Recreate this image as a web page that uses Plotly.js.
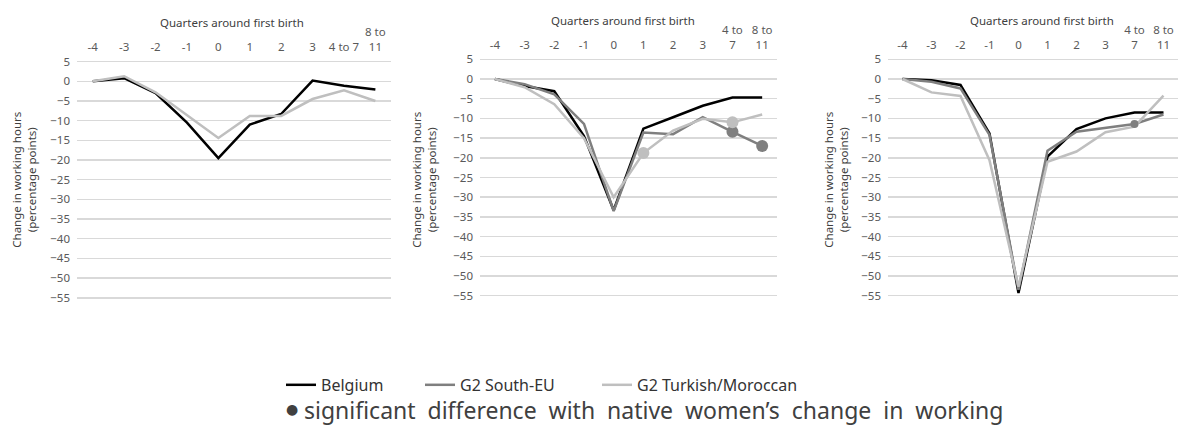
<!DOCTYPE html>
<html>
<head>
<meta charset="utf-8">
<script src="https://cdn.plot.ly/plotly-3.0.1.min.js"></script>
<style>html,body{margin:0;padding:0;background:#fff;}#chart{width:1178px;height:432px;}</style>
</head>
<body>
<div id="chart"></div>
<script>
// ---- data ----
const categories = ['-4','-3','-2','-1','0','1','2','3','4 to 7','8 to 11'];
const tickLabelsPanel1 = ['-4','-3','-2','-1','0','1','2','3','4 to 7','8 to<br>11'];
const tickLabelsPanel23 = ['-4','-3','-2','-1','0','1','2','3','4 to<br>7','8 to<br>11'];
const seriesNames = ['Belgium','G2 South-EU','G2 Turkish/Moroccan'];

const p1Belgium = [0, 0.8, -3.0, -10.5, -19.5, -11.0, -8.3, 0.2, -1.1, -2.1];
const p1Turkish = [0, 1.3, -2.8, -8.6, -14.4, -8.8, -8.8, -4.5, -2.3, -5.0];

const p2Belgium = [0, -1.8, -3.1, -14.5, -33.3, -12.6, -9.7, -6.8, -4.7, -4.7];
const p2SouthEU = [0, -1.3, -3.9, -11.4, -33.5, -13.6, -14.0, -9.7, -13.4, -17.0];
const p2Turkish = [0, -2.1, -6.4, -15.0, -30.0, -18.8, -13.1, -10.1, -11.0, -9.0];
const p2SouthEUSig = [false,false,false,false,false,false,false,false,true,true];
const p2TurkishSig = [false,false,false,false,false,true,false,false,true,false];

const p3Belgium = [0, -0.3, -1.5, -13.8, -54.3, -19.7, -12.7, -10.0, -8.5, -8.5];
const p3SouthEU = [0, -0.7, -2.4, -14.2, -53.5, -18.2, -13.4, -12.4, -11.4, -9.0];
const p3Turkish = [0, -3.4, -4.3, -20.6, -52.7, -21.0, -18.4, -13.5, -12.1, -4.2];
const p3SouthEUSig = [false,false,false,false,false,false,false,false,true,false];

const xTitle = 'Quarters around first birth';
const yTitle = 'Change in working hours<br>(percentage points)';
const noteBullet = '●';
const noteText = 'significant difference with native women’s change in working';

// ---- styles ----
const colors = {'Belgium':'#000000','G2 South-EU':'#7f7f7f','G2 Turkish/Moroccan':'#bfbfbf'};
const legendIds = {'Belgium':'legend','G2 South-EU':'legend2','G2 Turkish/Moroccan':'legend3'};
const FONT = 'Noto Sans, Open Sans, sans-serif';

function line(xa, ya, name, y, showlegend) {
  return {type:'scatter', mode:'lines', x:categories, y:y, name:name,
    xaxis:xa, yaxis:ya, showlegend:showlegend, legend:legendIds[name], legendgroup:name,
    line:{color:colors[name], width:2.5}, hoverinfo:'skip'};
}
function sig(xa, ya, name, y, flags, size) {
  const xs = [], ys = [];
  flags.forEach((f,i)=>{ if(f){ xs.push(categories[i]); ys.push(y[i]); } });
  return {type:'scatter', mode:'markers', x:xs, y:ys, name:name,
    xaxis:xa, yaxis:ya, showlegend:false, legend:legendIds[name], legendgroup:name,
    marker:{color:colors[name], size:size}, hoverinfo:'skip'};
}

const traces = [
  line('x','y','Belgium',p1Belgium,false),
  line('x','y','G2 Turkish/Moroccan',p1Turkish,false),
  line('x2','y2','Belgium',p2Belgium,true),
  line('x2','y2','G2 South-EU',p2SouthEU,true),
  line('x2','y2','G2 Turkish/Moroccan',p2Turkish,true),
  sig('x2','y2','G2 South-EU',p2SouthEU,p2SouthEUSig,12),
  sig('x2','y2','G2 Turkish/Moroccan',p2Turkish,p2TurkishSig,12),
  line('x3','y3','Belgium',p3Belgium,false),
  line('x3','y3','G2 South-EU',p3SouthEU,false),
  line('x3','y3','G2 Turkish/Moroccan',p3Turkish,false),
  sig('x3','y3','G2 South-EU',p3SouthEU,p3SouthEUSig,8)
];

const TICKFONT = {family:FONT, size:11.5, color:'#595959'};
function xax(domain, anchor, labels) {
  return {domain:domain, anchor:anchor, side:'top', type:'category',
    categoryorder:'array', categoryarray:categories, range:[-0.5, 9.5],
    tickmode:'array', tickvals:categories, ticktext:labels,
    showgrid:false, showline:false, zeroline:false, ticks:'',
    ticklabelstandoff:6, tickfont:TICKFONT};
}
function yax(domain, anchor) {
  return {domain:domain, anchor:anchor, range:[-55.3,5.3], dtick:5, tick0:0,
    showgrid:true, gridcolor:'#d9d9d9', gridwidth:1.5,
    zeroline:false, showline:false, ticks:'', ticklabelstandoff:6,
    tickfont:TICKFONT};
}

const annFont = {family:FONT, size:11.5, color:'#404040'};
const annotations = [
  {text:xTitle, xref:'paper', yref:'paper', x:0.197, y:0.947, showarrow:false, xanchor:'center', yanchor:'middle', font:annFont},
  {text:xTitle, xref:'paper', yref:'paper', x:0.529, y:0.952, showarrow:false, xanchor:'center', yanchor:'middle', font:annFont},
  {text:xTitle, xref:'paper', yref:'paper', x:0.8846, y:0.952, showarrow:false, xanchor:'center', yanchor:'middle', font:annFont},
  {text:yTitle, xref:'paper', yref:'paper', x:0.0204, y:0.584, textangle:-90, showarrow:false, xanchor:'center', yanchor:'middle', font:annFont},
  {text:yTitle, xref:'paper', yref:'paper', x:0.36, y:0.584, textangle:-90, showarrow:false, xanchor:'center', yanchor:'middle', font:annFont},
  {text:yTitle, xref:'paper', yref:'paper', x:0.7097, y:0.584, textangle:-90, showarrow:false, xanchor:'center', yanchor:'middle', font:annFont},
  {text:noteBullet, xref:'paper', yref:'paper', x:292/1178, y:1-409/432,
    showarrow:false, xanchor:'center', yanchor:'middle', font:{family:'DejaVu Sans', size:14, color:'#404040'}},
  {text:noteText.split(' ').join(' \u00a0'), xref:'paper', yref:'paper', x:302/1178, y:0.051,
    showarrow:false, xanchor:'left', yanchor:'middle', font:{family:FONT, size:23, color:'#404040'}}
];

const LEGFONT = {family:FONT, size:16, color:'#333333'};
function leg(xPx) {
  return {orientation:'h', x:xPx/1178, xanchor:'left', y:0.109, yanchor:'middle',
    font:LEGFONT, bgcolor:'rgba(0,0,0,0)', borderwidth:0};
}

const layout = {
  width:1178, height:432,
  margin:{l:0, r:0, t:0, b:0},
  paper_bgcolor:'#ffffff', plot_bgcolor:'#ffffff',
  font:{family:FONT},
  showlegend:true,
  legend: leg(281),
  legend2: leg(420),
  legend3: leg(597),
  xaxis: xax([0.0654,0.332],'y',tickLabelsPanel1),
  yaxis: yax([0.308,0.86],'x'),
  xaxis2: xax([0.4075,0.6596],'y2',tickLabelsPanel23),
  yaxis2: yax([0.3127,0.8655],'x2'),
  xaxis3: xax([0.7538,1.0],'y3',tickLabelsPanel23),
  yaxis3: yax([0.3127,0.8655],'x3'),
  annotations:annotations
};

Plotly.newPlot('chart', traces, layout, {displayModeBar:false, staticPlot:true});
</script>
</body>
</html>
